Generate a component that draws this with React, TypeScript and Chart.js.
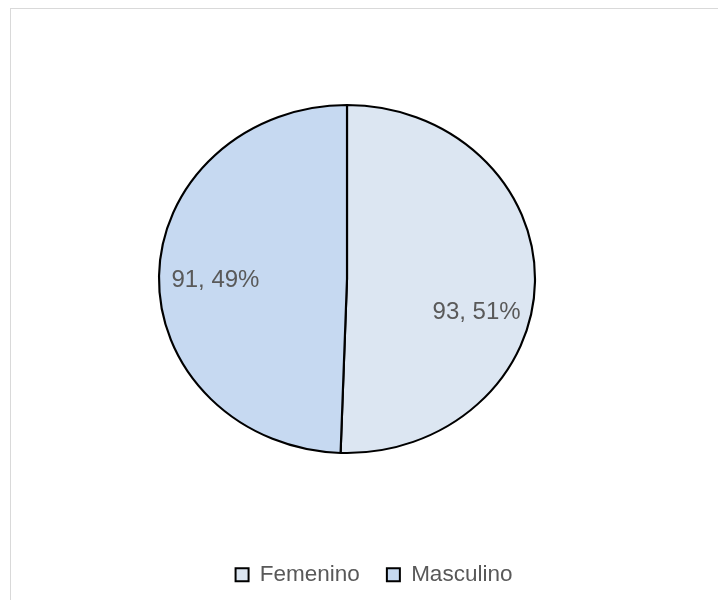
import React, { useEffect, useRef } from "react";
import { Chart, registerables } from "chart.js";

Chart.register(...registerables);

const categories = ["Femenino", "Masculino"];
const values = [93, 91];
const colors = ["#DCE6F2", "#C6D9F1"];
const labelOffsets = [[-2, 31], [0, 3]];

const PIE_CX = 347;
const PIE_CY = 279;
const RADIUS_Y = 174;
const SCALE_X = 188 / 174;

const ellipsePlugin = {
  id: "ellipse",
  beforeDatasetsDraw(chart: any) {
    const ca = chart.chartArea;
    const cx0 = (ca.left + ca.right) / 2;
    const cy0 = (ca.top + ca.bottom) / 2;
    const ctx = chart.ctx;
    ctx.save();
    ctx.translate(PIE_CX, PIE_CY);
    ctx.scale(SCALE_X, 1);
    ctx.translate(-cx0, -cy0);
  },
  afterDatasetsDraw(chart: any) {
    const ctx = chart.ctx;
    ctx.restore();
    const meta = chart.getDatasetMeta(0);
    const total = values.reduce((a, b) => a + b, 0);
    ctx.save();
    ctx.font = "24px 'Liberation Sans', Arial, sans-serif";
    ctx.fillStyle = "#595959";
    ctx.textAlign = "center";
    ctx.textBaseline = "middle";
    meta.data.forEach((arc: any, i: number) => {
      const p = arc.getProps(["startAngle", "endAngle", "outerRadius"], true);
      const mid = (p.startAngle + p.endAngle) / 2;
      const r = p.outerRadius * 0.7;
      const x = PIE_CX + Math.cos(mid) * r * SCALE_X + labelOffsets[i][0];
      const y = PIE_CY + Math.sin(mid) * r + labelOffsets[i][1];
      const pct = Math.round((values[i] / total) * 100);
      ctx.fillText(`${values[i]}, ${pct}%`, x, y);
    });
    ctx.restore();
  },
};

export default function App() {
  const ref = useRef<HTMLCanvasElement>(null);
  useEffect(() => {
    if (!ref.current) return;
    const chart = new Chart(ref.current, {
      type: "pie",
      data: {
        labels: categories,
        datasets: [
          {
            data: values,
            backgroundColor: colors,
            borderColor: "#000000",
            borderWidth: 2,
          },
        ],
      },
      options: {
        responsive: false,
        animation: false,
        devicePixelRatio: 1,
        radius: RADIUS_Y,
        layout: { padding: { left: 30, right: 0, top: 0, bottom: 0 } },
        plugins: {
          tooltip: { enabled: false },
          legend: {
            position: "bottom",
            labels: {
              color: "#595959",
              font: { size: 22.5, family: "'Liberation Sans', Arial, sans-serif" },
              boxWidth: 13,
              boxHeight: 13,
              padding: 27,
            },
          },
        },
      },
      plugins: [ellipsePlugin],
    });
    return () => chart.destroy();
  }, []);
  return (
    <div
      style={{
        position: "fixed",
        left: 0,
        top: 0,
        width: 718,
        height: 600,
        overflow: "hidden",
        background: "#fff",
      }}
    >
      <div
        style={{
          position: "absolute",
          left: 10,
          top: 8,
          width: 740,
          height: 620,
          border: "1px solid #d9d9d9",
        }}
      />
      <canvas
        ref={ref}
        width={718}
        height={596}
        style={{ position: "absolute", left: 0, top: 0, width: 718, height: 596 }}
      />
    </div>
  );
}
